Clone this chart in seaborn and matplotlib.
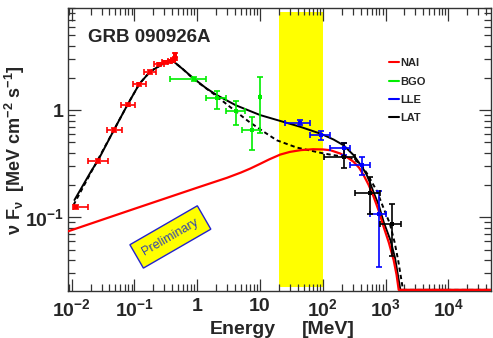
import numpy as np
import pandas as pd
import matplotlib
matplotlib.use("Agg")
import matplotlib.pyplot as plt
from matplotlib.lines import Line2D
import seaborn as sns

# ---------------- data ----------------
nai_x = [0.0118, 0.0261, 0.048, 0.078, 0.12, 0.178, 0.25, 0.311, 0.368, 0.415, 0.443, 0.448]
nai_y = [0.125, 0.336, 0.65, 1.13, 1.74, 2.28, 2.69, 2.79, 2.85, 2.93, 3.25, 3.05]
nai_xlo = [0.0106, 0.0183, 0.0364, 0.0606, 0.096, 0.144, 0.207, 0.273, 0.349, 0.387, 0.434, 0.438]
nai_xhi = [0.0183, 0.0376, 0.063, 0.103, 0.154, 0.22, 0.292, 0.349, 0.387, 0.443, 0.453, 0.457]
nai_ylo = [0.12, 0.32, 0.625, 1.09, 1.68, 2.2, 2.6, 2.7, 2.75, 2.83, 3.1, 2.95]
nai_yhi = [0.13, 0.35, 0.675, 1.17, 1.80, 2.36, 2.78, 2.88, 2.95, 3.03, 3.4, 3.15]

bgo_x = [0.877, 2.07, 4.15, 7.45, 10.1]
bgo_y = [1.95, 1.29, 0.985, 0.65, 1.33]
bgo_xlo = [0.372, 1.36, 2.9, 5.21, 10.1]
bgo_xhi = [1.36, 2.9, 5.83, 10.1, 10.1]
bgo_ylo = [1.86, 1.037, 0.735, 0.429, 0.61]
bgo_yhi = [2.04, 1.515, 1.21, 0.866, 2.05]

lle_x = [43.8, 95, 215, 423, 779]
lle_y = [0.767, 0.584, 0.448, 0.306, 0.107]
lle_xlo = [24.7, 63.5, 132, 275, 575]
lle_xhi = [63.5, 132, 275, 575, 1035]
lle_ylo = [0.724, 0.524, 0.38, 0.247, 0.034]
lle_yhi = [0.806, 0.64, 0.495, 0.364, 0.175]

lat_x = [215, 575, 1275]
lat_y = [0.366, 0.169, 0.0873]
lat_xlo = [106, 331, 808]
lat_xhi = [330, 829, 1773]
lat_ylo = [0.287, 0.108, 0.0433]
lat_yhi = [0.49, 0.238, 0.132]

# total model (solid black)
total_x = [0.0111, 0.0209, 0.0261, 0.047, 0.078, 0.12, 0.179, 0.292, 0.35, 0.415, 0.6, 0.877,
           1.4, 2.07, 4.15, 10.1, 23.8, 43.8, 95, 149, 215, 311, 423, 500, 575, 648, 780, 936,
           1198, 1414, 1726, 4.79e4]
total_y = [0.145, 0.275, 0.336, 0.65, 1.13, 1.76, 2.3, 2.73, 2.82, 2.87, 2.4, 1.98,
           1.6, 1.38, 1.11, 0.90, 0.777, 0.70, 0.60, 0.532, 0.47, 0.38, 0.295, 0.25, 0.206, 0.17,
           0.13, 0.09, 0.061, 0.042, 0.021, 0.021]

# Band component (dashed black)
band_x = [0.0107, 0.0209, 0.047, 0.078, 0.12, 0.179, 0.292, 0.35, 0.415, 0.6, 0.877, 1.8,
          3.5, 6.5, 11, 18.5, 38.5, 104, 200, 306, 391, 500, 721, 900, 1175, 1400, 1590,
          1900, 4.79e4]
band_y = [0.13, 0.27, 0.65, 1.13, 1.76, 2.3, 2.73, 2.82, 2.87, 2.4, 1.95, 1.43,
          1.05, 0.79, 0.64, 0.524, 0.448, 0.394, 0.37, 0.35, 0.318, 0.26, 0.178, 0.128, 0.087,
          0.058, 0.0397, 0.021, 0.021]

# extra power law with cutoff (red)
pl_x = [0.0088, 0.1, 1, 3, 5, 7, 10, 14, 21, 30, 45, 70, 100, 132, 190, 250, 311, 380, 449,
        540, 648, 780, 936, 1130, 1350, 1500, 1622, 4.79e4]
pl_y = [0.074, 0.12, 0.189, 0.234, 0.262, 0.285, 0.315, 0.347, 0.385, 0.408, 0.424, 0.432,
        0.43, 0.423, 0.394, 0.36, 0.329, 0.29, 0.247, 0.2, 0.155, 0.115, 0.081, 0.058, 0.0397,
        0.029, 0.021, 0.021]

gap_band = [20, 100]

x_ticks = [1e-2, 1e-1, 1, 10, 1e2, 1e3, 1e4]
x_ticklabels = ['$10^{-2}$', '$10^{-1}$', '1', '10', '$10^{2}$', '$10^{3}$', '$10^{4}$']
y_ticks = [0.1, 1]
y_ticklabels = ['$10^{-1}$', '1']
legend_labels = ['NAI', 'BGO', 'LLE', 'LAT']

# ---------------- style ----------------
sns.set_theme(style="ticks")
plt.rcParams['font.family'] = ['Liberation Sans', 'DejaVu Sans']
plt.rcParams['font.weight'] = 'bold'
plt.rcParams['mathtext.fontset'] = 'custom'
plt.rcParams['mathtext.rm'] = 'Liberation Sans:bold'
plt.rcParams['mathtext.bf'] = 'Liberation Sans:bold'
plt.rcParams['mathtext.it'] = 'Liberation Sans:bold'
plt.rcParams['mathtext.default'] = 'bf'

fig = plt.figure(figsize=(4.93, 3.38), dpi=100)
ax = fig.add_axes([68 / 493, 1 - 291 / 338, (491 - 68) / 493, (291 - 8) / 338])
ax.set_xscale('log')
ax.set_yscale('log')
ax.set_xlim(0.00876, 4.79e4)
ax.set_ylim(0.0205, 9.0)

ax.axvspan(gap_band[0], gap_band[1], ymin=0.014, ymax=0.986, color='#ffff00', lw=0, zorder=0.5)

def curve(x, y, **kw):
    df = pd.DataFrame({'E': x, 'F': y})
    sns.lineplot(data=df, x='E', y='F', ax=ax, sort=False, estimator=None, **kw)

curve(band_x, band_y, color='black', linewidth=1.4, linestyle=(0, (2.2, 1.6)), zorder=4)
curve(total_x, total_y, color='black', linewidth=1.4, zorder=4)
curve(pl_x, pl_y, color='#ff0000', linewidth=1.6, zorder=4.5)

def pts(x, y, xlo, xhi, ylo, yhi, color):
    x = np.array(x); y = np.array(y)
    xe = [x - np.array(xlo), np.array(xhi) - x]
    ye = [y - np.array(ylo), np.array(yhi) - y]
    ax.errorbar(x, y, xerr=xe, yerr=ye, fmt='none', ecolor=color, elinewidth=1.2,
                capsize=2, capthick=1.2, zorder=5)
    sns.scatterplot(x=x, y=y, ax=ax, color=color, marker='s', s=6, linewidth=0, zorder=6)

pts(nai_x, nai_y, nai_xlo, nai_xhi, nai_ylo, nai_yhi, '#ff0000')
pts(bgo_x, bgo_y, bgo_xlo, bgo_xhi, bgo_ylo, bgo_yhi, '#00ee00')
pts(lle_x, lle_y, lle_xlo, lle_xhi, lle_ylo, lle_yhi, '#0000ff')
pts(lat_x, lat_y, lat_xlo, lat_xhi, lat_ylo, lat_yhi, 'black')

ax.set_xlabel('')
ax.set_ylabel('')
ax.xaxis.set_major_locator(matplotlib.ticker.FixedLocator(x_ticks))
ax.xaxis.set_major_formatter(matplotlib.ticker.FixedFormatter(x_ticklabels))
ax.yaxis.set_major_locator(matplotlib.ticker.FixedLocator(y_ticks))
ax.yaxis.set_major_formatter(matplotlib.ticker.FixedFormatter(y_ticklabels))
ax.xaxis.set_minor_locator(matplotlib.ticker.LogLocator(base=10, subs=np.arange(2, 10), numticks=20))
ax.yaxis.set_minor_locator(matplotlib.ticker.LogLocator(base=10, subs=np.arange(2, 10), numticks=20))
ax.xaxis.set_minor_formatter(matplotlib.ticker.NullFormatter())
ax.yaxis.set_minor_formatter(matplotlib.ticker.NullFormatter())
ax.tick_params(which='both', direction='in', top=True, right=True, color='#333333', width=0.9)
ax.tick_params(which='major', length=9, labelsize=14, pad=5)
ax.tick_params(which='minor', length=5)
ax.tick_params(axis='y', which='major', pad=3)
for s in ax.spines.values():
    s.set_linewidth(1.0)
    s.set_color('#333333')
    s.set_visible(True)
    s.set_zorder(2)

ax.text(0.047, 0.895, 'GRB 090926A', transform=ax.transAxes, fontsize=13.5,
        fontweight='bold', va='center', ha='left')

ax.text(0.242, 0.191, 'Preliminary', transform=ax.transAxes, rotation=30,
        rotation_mode='anchor', ha='center', va='center', fontsize=9, fontweight='normal',
        color='#3344aa',
        bbox=dict(boxstyle='square,pad=0.6', facecolor='#ffff00', edgecolor='#2222cc', linewidth=1.0))

handles = [Line2D([0], [0], color=c, lw=1.5) for c in ['#ff0000', '#00ee00', '#0000ff', 'black']]
ax.legend(handles, legend_labels, loc='upper left', bbox_to_anchor=(0.758, 0.822),
          frameon=False, handlelength=0.9, handletextpad=0.15,
          labelspacing=0.75, borderpad=0, borderaxespad=0, prop={'weight': 'bold', 'size': 8})

fig.text(210 / 493, 1 - 334 / 338, 'Energy', fontsize=14, fontweight='bold', va='baseline', ha='left')
fig.text(302 / 493, 1 - 334 / 338, '[MeV]', fontsize=14, fontweight='bold', va='baseline', ha='left')
fig.text(15 / 493, 1 - 150 / 338, r'ν F$_{ν}$  [MeV cm$^{-2}$ s$^{-1}$]', rotation=90,
         fontsize=13, fontweight='bold', va='center', ha='center')

fig.savefig('out.png', dpi=100, facecolor='white')
